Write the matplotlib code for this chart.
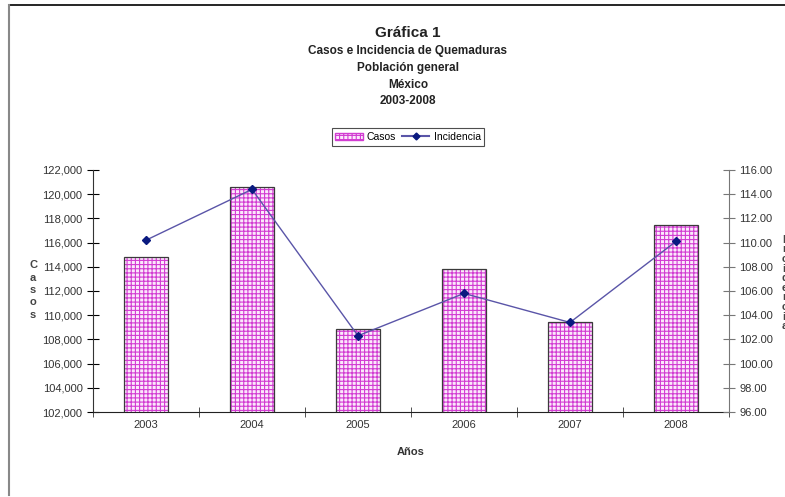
import matplotlib.pyplot as plt
from matplotlib.lines import Line2D
import numpy as np

plt.rcParams['font.family'] = ['Liberation Sans', 'DejaVu Sans']
plt.rcParams['hatch.linewidth'] = 0.8

# data
years = ['2003', '2004', '2005', '2006', '2007', '2008']
casos = [114800, 120600, 108850, 113800, 109450, 117450]
incidencia = [110.2, 114.4, 102.3, 105.8, 103.4, 110.1]

W, H = 785, 497
fig = plt.figure(figsize=(W / 100, H / 100), dpi=100)
ax = fig.add_axes([93 / W, 1 - 412 / H, (729 - 93) / W, (412 - 170) / H])

x = np.arange(len(years))
bw = 0.41
# hatched fill, then dark outline
ax.bar(x, casos, width=bw, color='#fbe8fb', edgecolor='#d23cd2', hatch='++++',
       linewidth=0, zorder=2)
ax.bar(x, casos, width=bw, fill=False, edgecolor='#3a3a3a', linewidth=0.9, zorder=3)

ax.set_xlim(-0.5, len(years) - 0.5)
ax.set_ylim(102000, 122000)
ax.set_yticks(np.arange(102000, 122001, 2000))
ax.set_yticklabels([f'{v:,}' for v in range(102000, 122001, 2000)])
ax.set_xticks(x)
ax.set_xticklabels(years)
ax.set_xticks(np.arange(-0.5, len(years)), minor=True)
ax.tick_params(axis='x', which='major', length=0, labelsize=8, pad=6, colors='#333333')
ax.tick_params(axis='x', which='minor', length=7, direction='inout', color='#333333')
ax.tick_params(axis='y', length=8, direction='inout', labelsize=8, labelcolor='#333333')
for s in ['top', 'right']:
    ax.spines[s].set_visible(False)
ax.spines['left'].set_color('#333333')
ax.spines['bottom'].set_color('#222222')

ax2 = ax.twinx()
ax2.plot(x, incidencia, color='#5a55a8', linewidth=1.0, marker='D', markersize=4,
         markerfacecolor='#0a1a80', markeredgecolor='#0a1a80', zorder=4)
ax2.set_ylim(96, 116)
ax2.set_yticks(np.arange(96, 116.1, 2))
ax2.set_yticklabels([f'{v:.2f}' for v in np.arange(96, 116.1, 2)])
ax2.tick_params(axis='y', length=8, direction='inout', labelsize=8, labelcolor='#333333',
                color='#777777')
for s in ['top', 'left', 'bottom']:
    ax2.spines[s].set_visible(False)
ax2.spines['right'].set_color('#777777')

ax.set_xlabel('Años', fontsize=8, fontweight='bold', labelpad=12, color='#333333')

# stacked axis labels
fig.text(33 / W, 1 - 290 / H, 'C\na\ns\no\ns', fontsize=8, fontweight='bold',
         ha='center', va='center', color='#444444', linespacing=1.3)
fig.text(782 / W, 1 - 283 / H, 'I\nn\nc\ni\nd\ne\nn\nc\ni\na', fontsize=8,
         fontweight='bold', ha='left', va='center', color='#444444', linespacing=0.95)

# titles
fig.text(408 / W, 1 - 33 / H, 'Gráfica 1', fontsize=11, fontweight='bold',
         ha='center', va='center', color='#222222')
subs = ['Casos e Incidencia de Quemaduras', 'Población general', 'México', '2003-2008']
for i, s in enumerate(subs):
    fig.text(408 / W, 1 - (51 + 16.8 * i) / H, s, fontsize=8.5, fontweight='bold',
             ha='center', va='center', color='#222222')

# legend
h1 = plt.Rectangle((0, 0), 1, 1, facecolor='#fbe8fb', edgecolor='#d23cd2', hatch='++++')
h2 = Line2D([], [], color='#5a55a8', marker='D', markersize=3.5,
            markerfacecolor='#0a1a80', markeredgecolor='#0a1a80')
leg = fig.legend([h1, h2], ['Casos', 'Incidencia'], loc='center',
                 bbox_to_anchor=(408 / W, 1 - 137 / H), ncol=2, fontsize=7.5,
                 frameon=True, fancybox=False, edgecolor='#222222',
                 handlelength=2.6, handletextpad=0.4, columnspacing=0.6,
                 borderpad=0.35, borderaxespad=0)
leg.get_frame().set_linewidth(0.8)

# outer frame lines
fig.add_artist(Line2D([9 / W, 1], [1 - 5 / H, 1 - 5 / H], color='black', linewidth=1.2))
fig.add_artist(Line2D([9 / W, 9 / W], [1 - 5 / H, 1 - 495 / H], color='#888888', linewidth=1.5))

fig.savefig('out.png', dpi=100)
